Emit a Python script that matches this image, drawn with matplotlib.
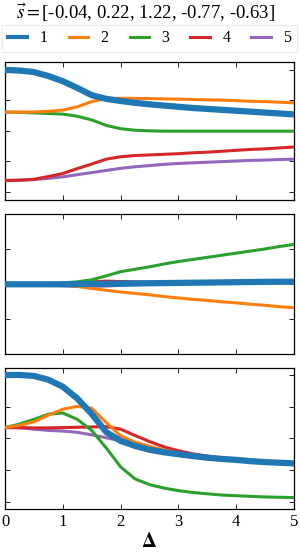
import numpy as np
import matplotlib
matplotlib.use("Agg")
import matplotlib.pyplot as plt
from matplotlib.lines import Line2D

plt.rcParams['font.family'] = ['Liberation Serif', 'DejaVu Serif']
plt.rcParams['mathtext.fontset'] = 'stix'

delta = [0, 0.25, 0.5, 0.75, 1.0, 1.25, 1.5, 1.75, 2.0, 2.25, 2.5,
         2.75, 3.0, 3.25, 3.5, 3.75, 4.0, 4.25, 4.5, 4.75, 5.0]

labels = ['1', '2', '3', '4', '5']
colors = ['#1f77b4', '#ff7f0e', '#2ca02c', '#d62728', '#9467bd']

# panel 1
p1_s1 = [2.0, 1.98, 1.93, 1.80, 1.63, 1.41, 1.17, 1.05, 0.98, 0.92, 0.87,
         0.83, 0.79, 0.75, 0.72, 0.69, 0.66, 0.63, 0.60, 0.57, 0.54]
p1_s2 = [0.615, 0.615, 0.62, 0.64, 0.68, 0.79, 0.96, 1.06, 1.07, 1.065, 1.06,
         1.05, 1.04, 1.03, 1.02, 1.01, 0.99, 0.97, 0.96, 0.94, 0.92]
p1_s3 = [0.615, 0.61, 0.59, 0.57, 0.55, 0.48, 0.36, 0.18, 0.07, 0.02, 0.0,
         -0.01, -0.01, -0.01, -0.01, -0.01, -0.01, -0.01, -0.01, -0.01, -0.01]
p1_s4 = [-1.63, -1.62, -1.59, -1.50, -1.40, -1.24, -1.09, -0.93, -0.85, -0.81, -0.79,
         -0.77, -0.75, -0.72, -0.70, -0.67, -0.64, -0.61, -0.59, -0.56, -0.53]
p1_s5 = [-1.63, -1.62, -1.60, -1.56, -1.51, -1.44, -1.37, -1.30, -1.23, -1.18, -1.14,
         -1.10, -1.07, -1.05, -1.03, -1.01, -0.99, -0.97, -0.96, -0.94, -0.93]

# panel 2
p2_s1 = [0.0, 0.0, 0.0, 0.0, 0.0, 0.005, 0.01, 0.015, 0.02, 0.025, 0.03,
         0.035, 0.04, 0.045, 0.05, 0.055, 0.06, 0.065, 0.07, 0.072, 0.075]
p2_s2 = [0.0, 0.0, -0.005, -0.01, -0.02, -0.06, -0.12, -0.17, -0.22, -0.26, -0.30,
         -0.35, -0.39, -0.43, -0.46, -0.50, -0.53, -0.57, -0.60, -0.64, -0.67]
p2_s3 = [0.0, 0.0, 0.01, 0.02, 0.04, 0.07, 0.13, 0.24, 0.36, 0.43, 0.50,
         0.58, 0.65, 0.71, 0.77, 0.83, 0.89, 0.95, 1.01, 1.08, 1.14]
p2_s4 = [0.0, 0.0, 0.005, 0.01, 0.02, 0.04, 0.07, 0.09, 0.08, 0.07, 0.06,
         0.06, 0.055, 0.055, 0.05, 0.05, 0.05, 0.05, 0.05, 0.05, 0.05]
p2_s5 = [0.0, 0.0, -0.01, -0.02, -0.04, -0.06, -0.06, -0.05, -0.03, -0.015, 0.0,
         0.01, 0.02, 0.025, 0.03, 0.035, 0.04, 0.045, 0.05, 0.055, 0.06]

# panel 3
p3_s1 = [2.0, 2.0, 1.97, 1.85, 1.63, 1.26, 0.77, 0.20, -0.08, -0.24, -0.36,
         -0.44, -0.50, -0.56, -0.61, -0.65, -0.68, -0.72, -0.75, -0.77, -0.79]
p3_s2 = [0.34, 0.41, 0.52, 0.73, 0.92, 1.01, 0.95, 0.50, 0.08, -0.12, -0.25,
         -0.37, -0.47, -0.55, -0.61, -0.65, -0.69, -0.72, -0.75, -0.77, -0.79]
p3_s3 = [0.34, 0.45, 0.60, 0.76, 0.80, 0.60, 0.25, -0.30, -0.90, -1.28, -1.46,
         -1.57, -1.65, -1.71, -1.75, -1.79, -1.81, -1.83, -1.85, -1.86, -1.87]
p3_s4 = [0.34, 0.34, 0.33, 0.33, 0.34, 0.35, 0.36, 0.37, 0.29, 0.09, -0.10,
         -0.27, -0.39, -0.49, -0.56, -0.62, -0.67, -0.71, -0.74, -0.77, -0.79]
p3_s5 = [0.34, 0.33, 0.29, 0.25, 0.23, 0.19, 0.11, 0.02, -0.08, -0.24, -0.36,
         -0.44, -0.50, -0.56, -0.61, -0.65, -0.68, -0.72, -0.75, -0.77, -0.79]

panels = [
    [p1_s1, p1_s2, p1_s3, p1_s4, p1_s5],
    [p2_s1, p2_s2, p2_s3, p2_s4, p2_s5],
    [p3_s1, p3_s2, p3_s3, p3_s4, p3_s5],
]
ylims = [(-2.27, 2.27), (-2.0, 2.0), (-2.23, 2.22)]
yticks = [[-2, -1, 0, 1, 2], [-1, 0, 1], [-2, -1, 0, 1, 2]]
xticks = [0, 1, 2, 3, 4, 5]

W, H = 300, 554
fig = plt.figure(figsize=(W / 100, H / 100), dpi=100)

boxes = [(61.7, 200.0), (214.3, 354.3), (368.0, 509.0)]
x0, x1 = 5.0, 294.0
lws = [4.5, 2.2, 2.2, 2.2, 2.2]

axes = []
for i, (top, bot) in enumerate(boxes):
    ax = fig.add_axes([x0 / W, 1 - bot / H, (x1 - x0) / W, (bot - top) / H])
    series = panels[i]
    for k in [4, 3, 2, 1, 0]:
        ax.plot(delta, series[k], color=colors[k], lw=lws[k],
                solid_capstyle='butt', zorder=2 + (5 - k))
    ax.set_xlim(0, 5)
    ax.set_ylim(*ylims[i])
    ax.set_xticks(xticks)
    ax.set_yticks(yticks[i])
    ax.set_yticklabels([])
    ax.tick_params(direction='in', top=True, right=True, length=3.5,
                   width=0.6, labelsize=12)
    for sp in ax.spines.values():
        sp.set_linewidth(0.9)
    if i < 2:
        ax.set_xticklabels([])
    else:
        ax.set_xlabel(r'$\mathbf{\Delta}$', fontsize=15, labelpad=2)
    axes.append(ax)

fig.text(0.485, 1 - 13 / H, r'$\vec{s} = $[-0.04, 0.22, 1.22, -0.77, -0.63]',
         ha='center', va='center', fontsize=13.5)

handles = [Line2D([0], [0], color=colors[k], lw=(3.0 if k == 0 else 2.2))
           for k in range(5)]
leg = fig.legend(handles, labels, loc='lower left', ncol=5, mode='expand',
                 bbox_to_anchor=(2 / W, 1 - 52 / H, 295 / W, 26 / H),
                 fontsize=11.5, handlelength=1.2, handletextpad=0.8,
                 borderaxespad=0, frameon=True, fancybox=False,
                 borderpad=0.35)
leg.get_frame().set_edgecolor('#e6e6e6')
leg.get_frame().set_linewidth(0.8)

fig.savefig('out.png', dpi=100)
